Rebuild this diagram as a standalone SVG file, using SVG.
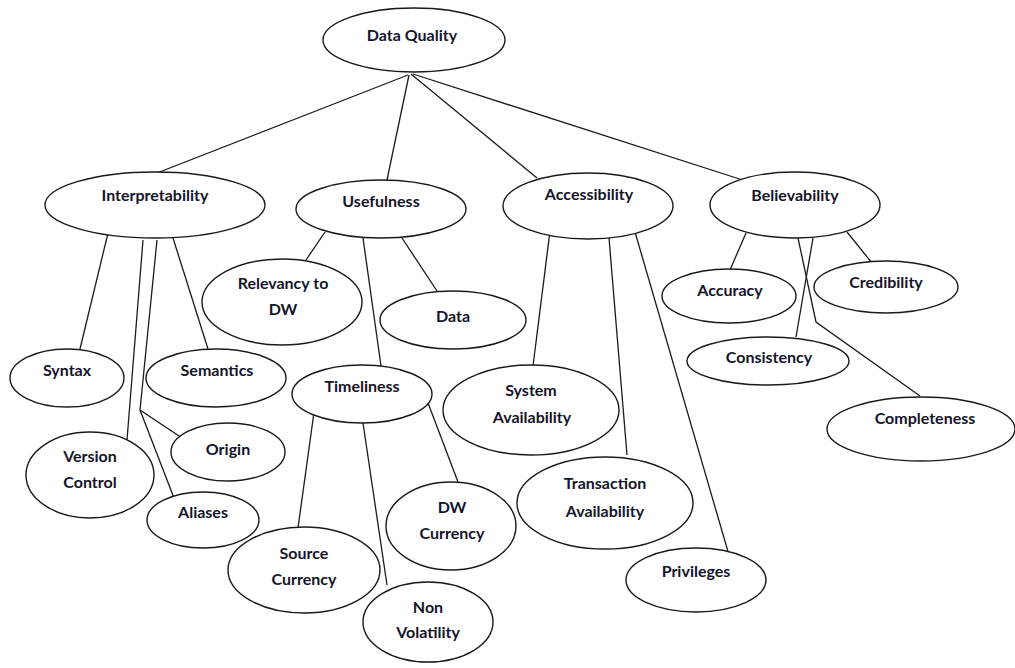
<svg xmlns="http://www.w3.org/2000/svg" width="1015" height="668" viewBox="0 0 1015 668">
  <style>
    .node ellipse { fill: #ffffff; stroke: #1a1a1a; stroke-width: 1.4; }
    .node text { font-family: Lato, "Liberation Sans", sans-serif; font-weight: bold; font-size: 16px; fill: #14142a; text-anchor: middle; }
    .edges line, .edges polyline { stroke: #1a1a1a; stroke-width: 1.3; fill: none; }
  </style>
  <rect width="1015" height="668" fill="#ffffff"/>

  <!-- connectors -->
  <g class="edges">
    <!-- root to categories -->
    <line x1="408" y1="75" x2="157" y2="173"/>
    <line x1="409" y1="75" x2="387" y2="180"/>
    <line x1="411" y1="74" x2="537" y2="178"/>
    <line x1="413" y1="74" x2="755" y2="184"/>
    <!-- Interpretability -->
    <line x1="108" y1="233" x2="80" y2="349"/>
    <line x1="173" y1="238" x2="208" y2="349"/>
    <line x1="143" y1="240" x2="127" y2="440"/>
    <line x1="157" y1="240" x2="140" y2="410"/>
    <line x1="140" y1="410" x2="185" y2="440"/>
    <line x1="140" y1="410" x2="174" y2="498"/>
    <!-- Usefulness -->
    <line x1="325" y1="232" x2="306" y2="260"/>
    <line x1="363" y1="238" x2="381" y2="366"/>
    <line x1="402" y1="238" x2="437" y2="291"/>
    <!-- Timeliness -->
    <line x1="315" y1="405" x2="298" y2="528"/>
    <line x1="363" y1="423" x2="387" y2="585"/>
    <line x1="425" y1="395" x2="458" y2="482"/>
    <!-- Accessibility -->
    <line x1="550" y1="231" x2="533" y2="366"/>
    <line x1="609" y1="238" x2="627" y2="455"/>
    <line x1="635" y1="232" x2="729" y2="555"/>
    <!-- Believability -->
    <line x1="746" y1="233" x2="730" y2="270"/>
    <line x1="847" y1="232" x2="872" y2="263"/>
    <line x1="813" y1="238" x2="796" y2="337"/>
    <polyline points="798,238 816,322 920,396"/>
  </g>

  <!-- nodes -->
  <g id="data-quality" class="node"><ellipse cx="414" cy="40" rx="91" ry="32"/><text x="412" y="41">Data Quality</text></g>

  <g id="interpretability" class="node"><ellipse cx="155" cy="205" rx="110" ry="33"/><text x="155" y="201">Interpretability</text></g>
  <g id="usefulness" class="node"><ellipse cx="381" cy="209" rx="85" ry="29"/><text x="381" y="207">Usefulness</text></g>
  <g id="accessibility" class="node"><ellipse cx="588" cy="206" rx="85" ry="33"/><text x="589" y="200">Accessibility</text></g>
  <g id="believability" class="node"><ellipse cx="795" cy="205" rx="85" ry="33"/><text x="795" y="201">Believability</text></g>

  <g id="relevancy" class="node"><ellipse cx="282" cy="302" rx="80" ry="43"/><text x="283" y="289">Relevancy to</text><text x="283" y="315">DW</text></g>
  <g id="data" class="node"><ellipse cx="453" cy="320" rx="73" ry="29"/><text x="453" y="322">Data</text></g>

  <g id="syntax" class="node"><ellipse cx="67" cy="378" rx="57" ry="29"/><text x="67" y="376">Syntax</text></g>
  <g id="semantics" class="node"><ellipse cx="216" cy="378" rx="70" ry="29"/><text x="217" y="376">Semantics</text></g>
  <g id="version-control" class="node"><ellipse cx="90" cy="475" rx="64" ry="43"/><text x="90" y="462">Version</text><text x="90" y="488">Control</text></g>
  <g id="origin" class="node"><ellipse cx="228" cy="452" rx="57" ry="29"/><text x="228" y="455">Origin</text></g>
  <g id="aliases" class="node"><ellipse cx="203" cy="520" rx="56" ry="28"/><text x="203" y="518">Aliases</text></g>

  <g id="timeliness" class="node"><ellipse cx="362" cy="394" rx="70" ry="29"/><text x="362" y="392">Timeliness</text></g>
  <g id="source-currency" class="node"><ellipse cx="304" cy="570" rx="76" ry="43"/><text x="304" y="559">Source</text><text x="304" y="585">Currency</text></g>
  <g id="non-volatility" class="node"><ellipse cx="428" cy="622" rx="65" ry="40"/><text x="428" y="613">Non</text><text x="428" y="638">Volatility</text></g>
  <g id="dw-currency" class="node"><ellipse cx="451" cy="526" rx="65" ry="44"/><text x="452" y="513">DW</text><text x="452" y="539">Currency</text></g>

  <g id="system-availability" class="node"><ellipse cx="531" cy="410" rx="88" ry="45"/><text x="531" y="396">System</text><text x="532" y="423">Availability</text></g>
  <g id="transaction-availability" class="node"><ellipse cx="605" cy="503" rx="88" ry="46"/><text x="605" y="489">Transaction</text><text x="605" y="517">Availability</text></g>
  <g id="privileges" class="node"><ellipse cx="696" cy="580" rx="70" ry="32"/><text x="696" y="577">Privileges</text></g>

  <g id="accuracy" class="node"><ellipse cx="729" cy="296" rx="67" ry="27"/><text x="730" y="296">Accuracy</text></g>
  <g id="credibility" class="node"><ellipse cx="886" cy="287" rx="72" ry="26"/><text x="886" y="288">Credibility</text></g>
  <g id="consistency" class="node"><ellipse cx="768" cy="361" rx="81" ry="24"/><text x="769" y="363">Consistency</text></g>
  <g id="completeness" class="node"><ellipse cx="921" cy="429" rx="94" ry="32"/><text x="925" y="424">Completeness</text></g>
</svg>
